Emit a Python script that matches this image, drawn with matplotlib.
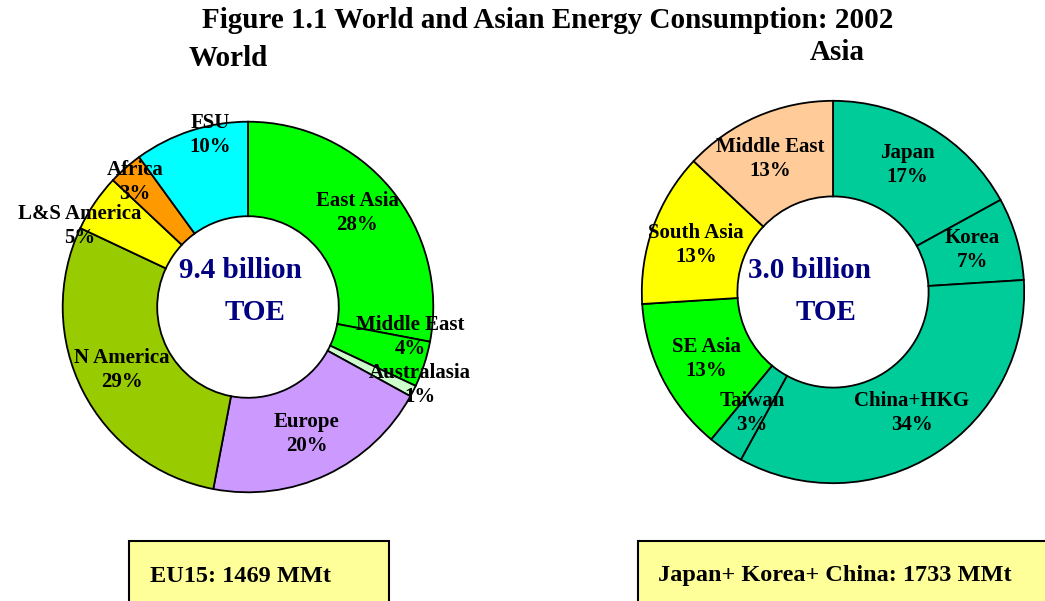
import matplotlib
matplotlib.use("Agg")
import matplotlib.pyplot as plt
from matplotlib.patches import Rectangle

plt.rcParams['font.family'] = ['Liberation Serif', 'DejaVu Serif']
plt.rcParams['font.weight'] = 'bold'

# data
world_regions = ["East Asia", "Middle East", "Australasia", "Europe", "N America",
                 "L&S America", "Africa", "FSU"]
world_share = [28, 4, 1, 20, 29, 5, 3, 10]
world_colors = ["#00FF00", "#00FF00", "#CCFFCC", "#CC99FF", "#99CC00",
                "#FFFF00", "#FF9900", "#00FFFF"]

asia_regions = ["Japan", "Korea", "China+HKG", "Taiwan", "SE Asia", "South Asia", "Middle East"]
asia_share = [17, 7, 34, 3, 13, 13, 13]
asia_colors = ["#00CC99", "#00CC99", "#00CC99", "#00CC99", "#00FF00", "#FFFF00", "#FFCC99"]

world_total = "9.4 billion"
asia_total = "3.0 billion"
world_note = "EU15: 1469 MMt"
asia_note = "Japan+ Korea+ China: 1733 MMt"

# label positions (pixels, centre of the two-line label)
world_lbl_pos = [(357, 213), (410, 337), (420, 385), (307, 434), (122, 370),
                 (80, 226), (135, 182), (210, 135)]
asia_lbl_pos = [(907, 165), (972, 250), (912, 413), (752, 413), (706, 359),
                (696, 245), (770, 159)]

W, H = 1045, 601
fig = plt.figure(figsize=(W / 100, H / 100), dpi=100)


def pie_axes(cx, cy, r):
    return fig.add_axes([(cx - r) / W, 1 - (cy + r) / H, 2 * r / W, 2 * r / H])


ax_w = pie_axes(248, 307, 189)
ax_w.pie(world_share, colors=world_colors, startangle=90, counterclock=False,
         radius=1, wedgeprops=dict(width=0.51, edgecolor="black", linewidth=1.3))
ax_w.set_xlim(-1.02, 1.02)
ax_w.set_ylim(-1.02, 1.02)

ax_a = pie_axes(833, 292, 195)
ax_a.pie(asia_share, colors=asia_colors, startangle=90, counterclock=False,
         radius=1, wedgeprops=dict(width=0.5, edgecolor="black", linewidth=1.3))
ax_a.set_xlim(-1.02, 1.02)
ax_a.set_ylim(-1.02, 1.02)

# overlay in pixel coordinates for texts and boxes
ax = fig.add_axes([0, 0, 1, 1])
ax.set_xlim(0, W)
ax.set_ylim(H, 0)
ax.axis("off")
ax.patch.set_visible(False)
ax.set_zorder(5)

ax.text(548, 21, "Figure 1.1 World and Asian Energy Consumption: 2002",
        ha="center", va="center", fontsize=21)
ax.text(228, 58, "World", ha="center", va="center", fontsize=21)
ax.text(837, 52, "Asia", ha="center", va="center", fontsize=21)

for name, val, (x, y) in zip(world_regions, world_share, world_lbl_pos):
    ax.text(x, y, f"{name}\n{val}%", ha="center", va="center", fontsize=15,
            linespacing=1.3)
for name, val, (x, y) in zip(asia_regions, asia_share, asia_lbl_pos):
    ax.text(x, y, f"{name}\n{val}%", ha="center", va="center", fontsize=15,
            linespacing=1.3)

navy = "#000080"
ax.text(240, 270, world_total, ha="center", va="center", fontsize=21, color=navy)
ax.text(255, 313, "TOE", ha="center", va="center", fontsize=21, color=navy)
ax.text(810, 270, asia_total, ha="center", va="center", fontsize=21, color=navy)
ax.text(826, 313, "TOE", ha="center", va="center", fontsize=21, color=navy)

ax.add_patch(Rectangle((129, 541), 260, 80, facecolor="#FFFF99", edgecolor="black",
                       linewidth=1.5, clip_on=False))
ax.add_patch(Rectangle((638, 541), 430, 80, facecolor="#FFFF99", edgecolor="black",
                       linewidth=1.5, clip_on=False))
ax.text(150, 576, world_note, ha="left", va="center", fontsize=17.5)
ax.text(658, 576, asia_note, ha="left", va="center", fontsize=17.5)

fig.savefig("out.png", dpi=100)
